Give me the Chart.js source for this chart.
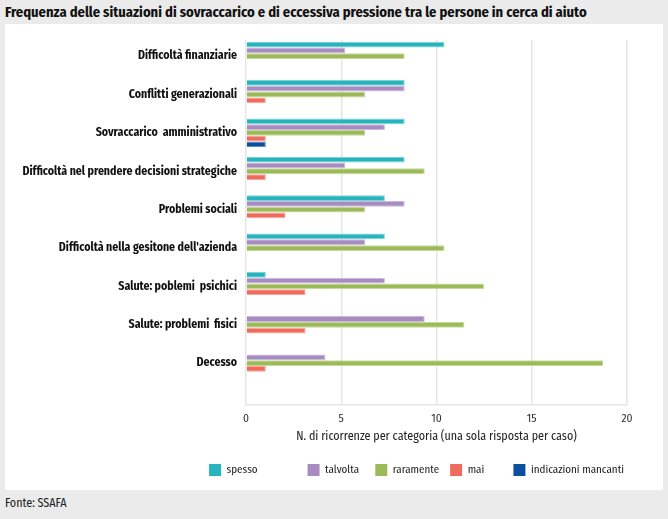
<!DOCTYPE html>
<html>
<head>
<meta charset="utf-8">
<script src="https://cdn.jsdelivr.net/npm/chart.js@4/dist/chart.umd.min.js"></script>
<style>
  html, body { margin: 0; padding: 0; }
  body { width: 668px; height: 519px; background: #ebebeb; position: relative; overflow: hidden;
         font-family: 'Fira Sans Condensed', 'Roboto Condensed', 'Open Sans Condensed', sans-serif; }
  #title { position: absolute; left: 5px; top: 3px; font-size: 14.5px; font-weight: bold; color: #111; white-space: nowrap; }
  #panel { position: absolute; left: 5px; top: 24px; width: 658px; height: 466px; background: #fff; }
  #source { position: absolute; left: 5px; top: 496px; font-size: 12px; color: #222; }
</style>
</head>
<body>
<div id="title">Frequenza delle situazioni di sovraccarico e di eccessiva pressione tra le persone in cerca di aiuto</div>
<div id="panel"><canvas id="c" width="658" height="466"></canvas></div>
<div id="source">Fonte: SSAFA</div>
<script>
const categories = [
  "Difficoltà finanziarie",
  "Conflitti generazionali",
  "Sovraccarico  amministrativo",
  "Difficoltà nel prendere decisioni strategiche",
  "Problemi sociali",
  "Difficoltà nella gesitone dell'azienda",
  "Salute: poblemi  psichici",
  "Salute: problemi  fisici",
  "Decesso"
];
const seriesNames = ["spesso", "talvolta", "raramente", "mai", "indicazioni mancanti"];
const spesso     = [10.42, 8.33, 8.33, 8.33, 7.29, 7.29, 1.04, null, null];
const talvolta   = [5.21, 8.33, 7.29, 5.21, 8.33, 6.25, 7.29, 9.38, 4.17];
const raramente  = [8.33, 6.25, 6.25, 9.38, 6.25, 10.42, 12.5, 11.46, 18.75];
const mai        = [null, 1.04, 1.04, 1.04, 2.08, null, 3.13, 3.13, 1.04];
const indicazioniMancanti = [null, null, 1.04, null, null, null, null, null, null];
const xTicks = [0, 5, 10, 15, 20];

const colors = ["#26b5bc", "#a88bc1", "#9cbb58", "#f06b5e", "#0b4f9f"];
const borders = ["#7fd3d7", "#cbb9db", "#c3d89c", "#f6a59c", "#5a86c0"];
const legendGap = ["\u00a0".repeat(15), "\u00a0\u00a0", "", "\u00a0".repeat(7), ""];

const allSeries = [spesso, talvolta, raramente, mai, indicazioniMancanti];
const FONT = "'Fira Sans Condensed', 'Roboto Condensed', 'Open Sans Condensed', sans-serif";

const datasets = allSeries.map((vals, s) => ({
  label: seriesNames[s],
  data: vals.map((v, i) => ({ x: v, y: i })),
  backgroundColor: colors[s],
  borderColor: borders[s],
  borderWidth: 1,
  categoryPercentage: 0.753,
  barPercentage: 1.0
}));

const legendShift = {
  id: 'legendShift',
  afterLayout(chart) { if (chart.legend) { chart.legend.left += 8; chart.legend.right += 8; } }
};

new Chart(document.getElementById('c'), {
  type: 'bar',
  data: { datasets },
  plugins: [legendShift],
  options: {
    indexAxis: 'y',
    responsive: false,
    animation: false,
    layout: { padding: { top: 15, right: 36, left: 0, bottom: 4 } },
    plugins: {
      tooltip: { enabled: false },
      legend: {
        position: 'bottom',
        align: 'end',
        labels: {
          boxWidth: 12, boxHeight: 12, padding: 11,
          color: '#222',
          font: { family: FONT, size: 11 },
          generateLabels(chart) {
            const items = Chart.defaults.plugins.legend.labels.generateLabels(chart);
            items.forEach((it, i) => { it.text = it.text + legendGap[i]; it.lineWidth = 0; });
            return items;
          }
        }
      }
    },
    scales: {
      x: {
        type: 'linear',
        min: 0, max: 20,
        afterBuildTicks(s) { s.ticks = xTicks.map(v => ({ value: v })); },
        ticks: { color: '#333', padding: 7, font: { family: FONT, size: 11.5 } },
        grid: { color: '#e6e6e6', lineWidth: 1.5, drawTicks: false },
        border: { display: true, color: '#e6e6e6', width: 1.5 },
        title: {
          display: true,
          text: 'N. di ricorrenze per categoria (una sola risposta per caso)',
          color: '#222',
          font: { family: FONT, size: 12 },
          padding: { top: 0, bottom: 9 }
        },
        afterFit(s) { s.height = 48; }
      },
      y: {
        type: 'linear',
        reverse: true,
        offset: false,
        min: -0.418, max: 9.09,
        afterBuildTicks(s) { s.ticks = categories.map((c, i) => ({ value: i })); },
        ticks: {
          color: '#111', padding: 9, autoSkip: false,
          font: { family: FONT, size: 11.8, weight: 'bold' },
          callback: (v) => categories[v]
        },
        grid: { display: false, drawTicks: false, offset: false },
        border: { display: false },
        afterFit(s) { s.width = 241; }
      }
    }
  }
});
</script>
</body>
</html>
